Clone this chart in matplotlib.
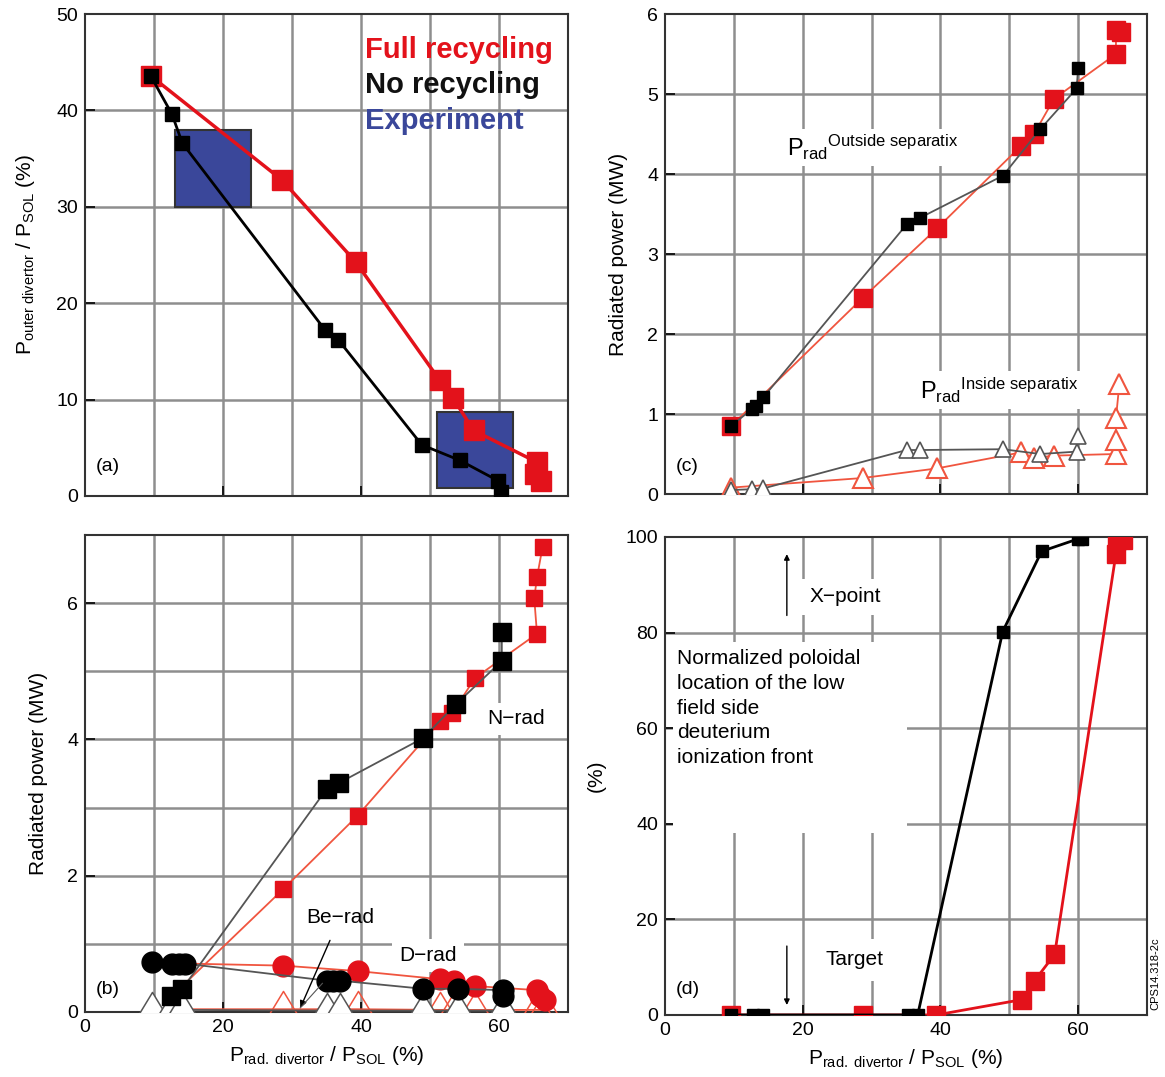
import matplotlib
matplotlib.use("Agg")
import matplotlib.pyplot as plt
from matplotlib.patches import Rectangle
from matplotlib.path import Path

plt.rcParams['font.family'] = ['Liberation Sans', 'DejaVu Sans']
plt.rcParams['mathtext.fontset'] = 'custom'
plt.rcParams['mathtext.rm'] = 'Liberation Sans'
plt.rcParams['mathtext.it'] = 'Liberation Sans:italic'
plt.rcParams['mathtext.bf'] = 'Liberation Sans:bold'

RED = '#e3121b'
LRED = '#f0553f'
GRAY = '#555555'
BLUE = '#3a479a'

# ---- panel (a): outer divertor power fraction
a_red_x = [9.5, 28.5, 39.2, 51.4, 53.3, 56.3, 65.5, 65.2, 66.1]
a_red_y = [43.6, 32.8, 24.3, 12.0, 10.2, 6.8, 3.5, 2.3, 1.6]
a_blk_x = [9.5, 12.6, 14.1, 34.8, 36.7, 48.8, 54.3, 59.8, 60.3]
a_blk_y = [43.6, 39.6, 36.6, 17.2, 16.2, 5.3, 3.7, 1.6, 0.4]
# experiment boxes: x0, x1, y0, y1
exp_x0 = [13.0, 51.0]
exp_x1 = [24.0, 62.0]
exp_y0 = [30.0, 0.8]
exp_y1 = [38.0, 8.7]

# ---- panel (c): radiated power inside / outside separatrix
c_red_sq_x = [9.6, 28.7, 39.5, 51.7, 53.6, 56.5, 65.5, 65.5, 66.3]
c_red_sq_y = [0.85, 2.45, 3.32, 4.35, 4.5, 4.94, 5.5, 5.8, 5.78]
c_blk_sq_x = [9.6, 12.6, 13.2, 14.3, 35.1, 37.0, 49.1, 54.5, 59.8, 60.0]
c_blk_sq_y = [0.85, 1.06, 1.1, 1.21, 3.37, 3.45, 3.98, 4.56, 5.07, 5.33]
c_red_tri_x = [9.6, 28.7, 39.5, 51.7, 53.6, 56.5, 65.5, 65.5, 65.5, 66.0]
c_red_tri_y = [0.08, 0.2, 0.32, 0.52, 0.45, 0.48, 0.5, 0.68, 0.95, 1.38]
c_blk_tri_x = [9.6, 12.6, 14.3, 35.1, 37.0, 49.1, 54.5, 59.8, 60.0]
c_blk_tri_y = [0.05, 0.06, 0.07, 0.55, 0.55, 0.56, 0.5, 0.53, 0.72]

# ---- panel (b): N, D and Be radiation
b_red_sq_x = [14.3, 28.7, 39.5, 51.5, 53.2, 56.5, 65.5, 65.1, 65.5, 66.3]
b_red_sq_y = [0.4, 1.8, 2.88, 4.27, 4.38, 4.9, 5.55, 6.07, 6.38, 6.82]
b_blk_sq_x = [12.5, 14.1, 35.0, 36.8, 49.0, 53.8, 60.4, 60.4]
b_blk_sq_y = [0.23, 0.34, 3.27, 3.36, 4.02, 4.52, 5.15, 5.58]
b_red_ci_x = [14.5, 28.7, 39.5, 51.5, 53.5, 56.5, 65.5, 66.0, 66.6]
b_red_ci_y = [0.71, 0.68, 0.6, 0.48, 0.45, 0.38, 0.32, 0.24, 0.17]
b_blk_ci_x = [9.7, 12.6, 13.6, 14.5, 35.0, 36.0, 36.9, 49.0, 54.0, 60.5, 60.5]
b_blk_ci_y = [0.73, 0.70, 0.71, 0.71, 0.46, 0.46, 0.46, 0.34, 0.34, 0.32, 0.24]
b_red_tri_x = [14.3, 28.7, 39.5, 51.5, 53.5, 56.5, 65.5, 66.5]
b_red_tri_y = [0.04, 0.04, 0.04, 0.03, 0.03, 0.03, 0.03, 0.03]
b_blk_tri_x = [9.7, 12.6, 14.1, 35.0, 36.9, 49.0, 54.0, 60.5]
b_blk_tri_y = [0.03, 0.03, 0.03, 0.02, 0.02, 0.02, 0.02, 0.02]

# ---- panel (d): ionization front location
d_red_x = [9.6, 28.7, 39.4, 51.8, 53.7, 56.6, 65.5, 65.7, 66.5]
d_red_y = [0, 0, 0, 3.2, 7.2, 12.7, 96.5, 99.4, 99.4]
d_blk_x = [9.6, 12.8, 14.2, 35.3, 36.7, 49.05, 54.7, 60.0, 60.5]
d_blk_y = [0, 0, 0, 0, 0, 80.2, 97.0, 99.6, 99.6]

xlab = r'$\mathrm{P_{rad.\ divertor}\ /\ P_{SOL}}$ (%)'

# triangle sitting on its data point (base just below it)
tri_up = Path([(-1, -0.45), (1, -0.45), (0, 1.2), (-1, -0.45)],
              [Path.MOVETO, Path.LINETO, Path.LINETO, Path.CLOSEPOLY])

fig = plt.figure(figsize=(11.65, 10.77), dpi=100)
ax_a = fig.add_axes([0.073, 0.5395, 0.4146, 0.4475])
ax_c = fig.add_axes([0.5708, 0.5413, 0.4137, 0.4457])
ax_b = fig.add_axes([0.073, 0.0604, 0.4146, 0.4429])
ax_d = fig.add_axes([0.5708, 0.0576, 0.4137, 0.4438])


def style(ax, ymax, ymajor, ygrid, xlabels):
    ax.set_xlim(0, 70)
    ax.set_ylim(0, ymax)
    ax.set_axisbelow(True)
    for x in range(10, 70, 10):
        ax.axvline(x, color='#8e8e8e', lw=1.8, zorder=0.5)
    for y in ygrid:
        ax.axhline(y, color='#8e8e8e', lw=1.8, zorder=0.5)
    ax.set_yticks(ymajor)
    ax.set_xticks([0, 20, 40, 60])
    if not xlabels:
        ax.set_xticklabels([])
    ax.tick_params(direction='in', length=7, width=1.2, labelsize=14, pad=5)
    for s in ax.spines.values():
        s.set_color('#333333')
        s.set_linewidth(1.5)


# (a)
style(ax_a, 50, [0, 10, 20, 30, 40, 50], [10, 20, 30, 40], False)
for x0, x1, y0, y1 in zip(exp_x0, exp_x1, exp_y0, exp_y1):
    ax_a.add_patch(Rectangle((x0, y0), x1 - x0, y1 - y0, facecolor=BLUE,
                             edgecolor='#333333', lw=1.5, zorder=1))
ax_a.plot(a_red_x, a_red_y, color=RED, lw=2.5, marker='s', ms=14, mec=RED, mfc=RED, zorder=3)
ax_a.plot(a_blk_x, a_blk_y, color='black', lw=2, marker='s', ms=9.5, mec='black', mfc='black', zorder=4)
ax_a.text(40.6, 46.3, 'Full recycling', color=RED, fontsize=21, fontweight='bold', va='center')
ax_a.text(40.6, 42.6, 'No recycling', color='#111111', fontsize=21, fontweight='bold', va='center')
ax_a.text(40.6, 38.9, 'Experiment', color=BLUE, fontsize=21, fontweight='bold', va='center')
ax_a.text(1.5, 3.1, '(a)', fontsize=14, va='center')
ax_a.set_ylabel(r'$\mathrm{P_{outer\ divertor}\ /\ P_{SOL}}$ (%)', fontsize=15, labelpad=14)

# (c)
style(ax_c, 6, [0, 1, 2, 3, 4, 5, 6], [1, 2, 3, 4, 5], False)
ax_c.plot(c_red_tri_x, c_red_tri_y, color=LRED, lw=1.3, marker='^', ms=15, mec=LRED, mfc='white', mew=1.5, zorder=3)
ax_c.plot(c_blk_tri_x, c_blk_tri_y, color=GRAY, lw=1.3, marker='^', ms=11, mec=GRAY, mfc='white', mew=1.2, zorder=4)
ax_c.plot(c_red_sq_x, c_red_sq_y, color=LRED, lw=1.3, marker='s', ms=13, mec=RED, mfc=RED, zorder=3)
ax_c.plot(c_blk_sq_x, c_blk_sq_y, color=GRAY, lw=1.3, marker='s', ms=8.5, mec='black', mfc='black', zorder=4)
ax_c.text(17.7, 4.33, r'$\mathrm{P_{rad}{}^{Outside\ separatix}}$', fontsize=17, va='center',
          bbox=dict(facecolor='white', edgecolor='none', pad=3), zorder=2)
ax_c.text(37.0, 1.3, r'$\mathrm{P_{rad}{}^{Inside\ separatix}}$', fontsize=17, va='center',
          bbox=dict(facecolor='white', edgecolor='none', pad=3), zorder=2)
ax_c.text(1.5, 0.34, '(c)', fontsize=14, va='center')
ax_c.set_ylabel('Radiated power (MW)', fontsize=15, labelpad=14)

# (b)
style(ax_b, 7, [0, 2, 4, 6], [1, 2, 3, 4, 5, 6], True)
ax_b.plot(b_red_tri_x, b_red_tri_y, color=LRED, lw=1.3, marker=tri_up, ms=26, mec=LRED, mfc='none',
          mew=1.1, markevery=list(range(1, 8)), zorder=3)
ax_b.plot(b_blk_tri_x, b_blk_tri_y, color=GRAY, lw=1.3, marker=tri_up, ms=26, mec=GRAY, mfc='white',
          mew=1.1, zorder=3)
ax_b.plot(b_red_sq_x, b_red_sq_y, color=LRED, lw=1.3, marker='s', ms=12, mec=RED, mfc=RED,
          markevery=list(range(1, 10)), zorder=4)
ax_b.plot(b_blk_sq_x, b_blk_sq_y, color=GRAY, lw=1.3, marker='s', ms=13, mec='black', mfc='black', zorder=5)
ax_b.plot(b_red_ci_x, b_red_ci_y, color=LRED, lw=1.3, marker='o', ms=15, mec=RED, mfc=RED,
          markevery=list(range(1, 9)), zorder=4)
ax_b.plot(b_blk_ci_x, b_blk_ci_y, color=GRAY, lw=1.3, marker='o', ms=15, mec='black', mfc='black', zorder=5)
ax_b.annotate('Be\u2212rad', xy=(31.2, 0.06), xytext=(32.0, 1.38), fontsize=15, va='center',
              arrowprops=dict(arrowstyle='-|>', color='black', lw=1, shrinkA=8, shrinkB=0,
                              mutation_scale=10), zorder=6)
ax_b.plot([31.2, 34.4], [0.06, 0.42], color=GRAY, lw=0.8, zorder=6)
ax_b.text(49.7, 0.83, 'D\u2212rad', fontsize=15, ha='center', va='center',
          bbox=dict(facecolor='white', edgecolor='none', pad=5), zorder=2)
ax_b.text(62.4, 4.3, 'N\u2212rad', fontsize=15, ha='center', va='center',
          bbox=dict(facecolor='white', edgecolor='none', pad=5), zorder=2)
ax_b.text(1.5, 0.33, '(b)', fontsize=14, va='center')
ax_b.set_ylabel('Radiated power (MW)', fontsize=15, labelpad=14)
ax_b.set_xlabel(xlab, fontsize=15, labelpad=6)

# (d)
style(ax_d, 100, [0, 20, 40, 60, 80, 100], [20, 40, 60, 80], True)
ax_d.add_patch(Rectangle((1.2, 38), 34, 40, facecolor='white', edgecolor='none', zorder=1))
ax_d.plot(d_red_x, d_red_y, color=RED, lw=2, marker='s', ms=13, mec=RED, mfc=RED, zorder=3)
ax_d.plot(d_blk_x, d_blk_y, color='black', lw=2, marker='s', ms=9, mec='black', mfc='black', zorder=4)
ax_d.text(1.7, 76.5, 'Normalized poloidal\nlocation of the low\nfield side\ndeuterium\nionization front',
          fontsize=15, va='top', linespacing=1.38, zorder=2)
ax_d.annotate('', xy=(17.7, 97), xytext=(17.7, 83),
              arrowprops=dict(arrowstyle='-|>', color='black', lw=1, mutation_scale=8))
ax_d.text(21.0, 87.5, 'X\u2212point', fontsize=15, va='center',
          bbox=dict(facecolor='white', edgecolor='none', pad=6), zorder=2)
ax_d.annotate('', xy=(17.7, 1.5), xytext=(17.7, 15),
              arrowprops=dict(arrowstyle='-|>', color='black', lw=1, mutation_scale=8))
ax_d.text(23.3, 11.5, 'Target', fontsize=15, va='center',
          bbox=dict(facecolor='white', edgecolor='none', pad=8), zorder=2)
ax_d.text(1.5, 5.3, '(d)', fontsize=14, va='center')
ax_d.set_ylabel('(%)', fontsize=15, labelpad=14)
ax_d.set_xlabel(xlab, fontsize=15, labelpad=6)

fig.text(0.9915, 0.062, 'CPS14.318-2c', rotation=90, fontsize=8, ha='center', va='bottom')

fig.savefig('out.png', dpi=100)
